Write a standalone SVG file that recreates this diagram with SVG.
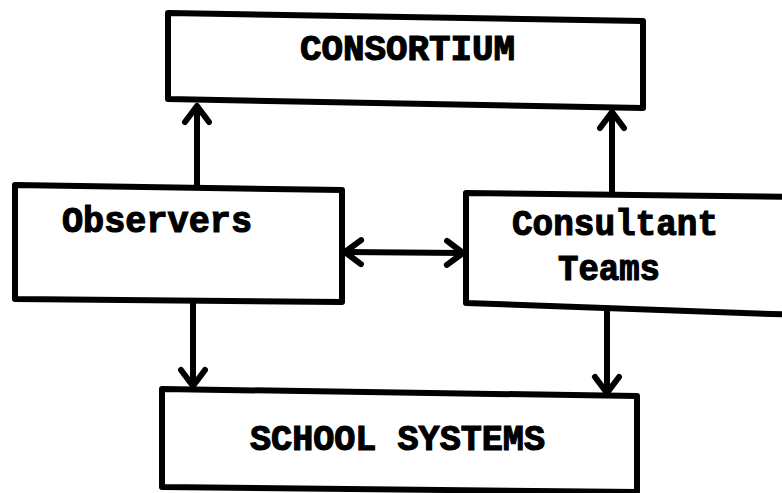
<svg xmlns="http://www.w3.org/2000/svg" width="782" height="493" viewBox="0 0 782 493">
<style>
.box{fill:#fff;stroke:#000;stroke-width:6;stroke-linejoin:round}
.lbl{font-family:"Liberation Mono","Courier New",monospace;font-weight:bold;font-size:36px;fill:#000;stroke:#000;stroke-width:1.2}
.conn{stroke:#000;stroke-width:6;fill:none}
</style>
<defs>
<marker id="ah" markerUnits="userSpaceOnUse" viewBox="-24 -18 30 36" refX="0" refY="0" markerWidth="30" markerHeight="36" orient="auto-start-reverse">
<path d="M-16,-12 L0,0 L-16,12" fill="none" stroke="#000" stroke-width="6" stroke-linecap="round" stroke-linejoin="round"/>
</marker>
</defs>
<rect width="782" height="493" fill="#fff"/>
<g id="connectors">
<line class="conn" x1="197" y1="185" x2="197" y2="106" marker-end="url(#ah)"/>
<line class="conn" x1="612" y1="194" x2="612" y2="112" marker-end="url(#ah)"/>
<line class="conn" x1="193" y1="300" x2="193" y2="386" marker-end="url(#ah)"/>
<line class="conn" x1="607" y1="309" x2="607" y2="393" marker-end="url(#ah)"/>
<line class="conn" x1="345" y1="252" x2="463" y2="253" marker-start="url(#ah)" marker-end="url(#ah)"/>
</g>
<g id="consortium">
<path class="box" d="M168,13 L643,21 L643,108 L168,99 Z"/>
<text class="lbl" x="300" y="60" textLength="215" lengthAdjust="spacingAndGlyphs">CONSORTIUM</text>
</g>
<g id="observers">
<path class="box" d="M15,185 L342,190 L342,302 L15,299 Z"/>
<text class="lbl" x="62" y="232" textLength="190" lengthAdjust="spacingAndGlyphs">Observers</text>
</g>
<g id="consultant-teams">
<path class="box" d="M466,193 L800,197 L800,315 L466,303 Z"/>
<text class="lbl" x="512" y="235" textLength="206" lengthAdjust="spacingAndGlyphs">Consultant</text>
<text class="lbl" x="558" y="280" textLength="102" lengthAdjust="spacingAndGlyphs">Teams</text>
</g>
<g id="school-systems">
<path class="box" d="M162,389 L637,396 L637,492 L162,487 Z"/>
<text class="lbl" x="250" y="450" textLength="295" lengthAdjust="spacingAndGlyphs">SCHOOL SYSTEMS</text>
</g>
</svg>
